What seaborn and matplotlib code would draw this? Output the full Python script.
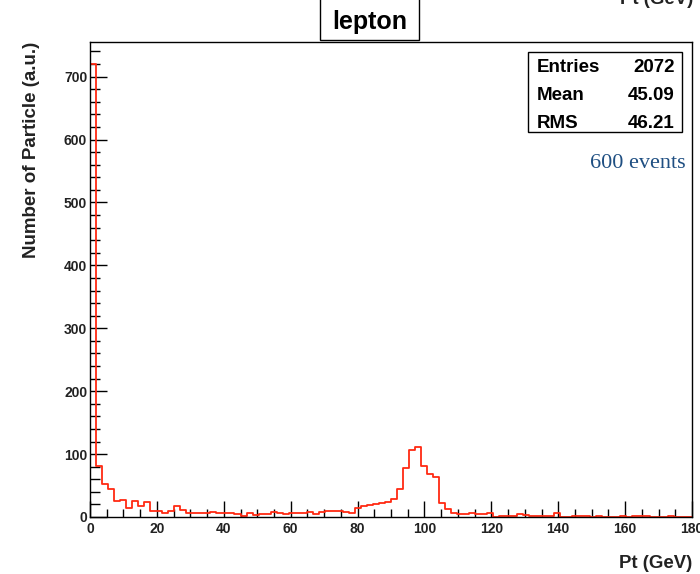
import numpy as np
import pandas as pd
import seaborn as sns
import matplotlib
matplotlib.use("Agg")
import matplotlib.pyplot as plt
from matplotlib.patches import Rectangle
from matplotlib.ticker import MultipleLocator

# Lepton transverse momentum spectrum, 100 bins between 0 and 180 GeV
pt_low, pt_high, n_bins = 0.0, 180.0, 100
counts = [720, 81, 53, 44, 26, 27, 15, 26, 18, 24,
          9, 10, 6, 9, 18, 11, 6, 6, 7, 7,
          8, 7, 7, 6, 5, 2, 6, 3, 5, 5,
          8, 6, 5, 7, 7, 7, 8, 5, 8, 10,
          10, 10, 8, 7, 15, 17, 19, 20, 22, 24,
          29, 45, 78, 107, 112, 81, 69, 63, 23, 13,
          6, 4, 4, 6, 5, 4, 6, 0, 2, 2,
          2, 5, 3, 2, 2, 2, 2, 6, 0, 0,
          1, 1, 1, 0, 1, 0, 0, 0, 1, 0,
          1, 1, 1, 0, 0, 0, 1, 0, 0, 0]

title = "lepton"
x_title = "Pt (GeV)"
y_title = "Number of Particle (a.u.)"
stat_names = ["Entries", "Mean", "RMS"]
stat_values = ["2072", "45.09", "46.21"]
note = "600 events"

width = (pt_high - pt_low) / n_bins
centers = pt_low + width * (np.arange(n_bins) + 0.5)
df = pd.DataFrame({"pt": centers, "n": counts})

sns.set_theme(style="white")
plt.rcParams["font.family"] = ["Liberation Sans", "DejaVu Sans"]

fig = plt.figure(figsize=(7.0, 5.74), dpi=100)
W, H = 700, 574
ax = fig.add_axes([90 / W, 1 - 517 / H, (692 - 90) / W, (517 - 42) / H])

sns.histplot(data=df, x="pt", weights="n", bins=n_bins, binrange=(pt_low, pt_high),
             element="step", fill=False, color="#ff2a12", linewidth=1.3, ax=ax)

ax.set_xlim(pt_low, pt_high)
ax.set_ylim(0, 755)
ax.xaxis.set_major_locator(MultipleLocator(20))
ax.xaxis.set_minor_locator(MultipleLocator(5))
ax.yaxis.set_major_locator(MultipleLocator(100))
ax.yaxis.set_minor_locator(MultipleLocator(20))
ax.tick_params(axis="x", which="major", direction="in", length=11.5, width=1.0,
               color="black", pad=3.5, labelsize=10, bottom=True, top=False)
ax.tick_params(axis="x", which="minor", direction="in", length=5.8, width=1.0,
               color="black", bottom=True, top=False)
ax.tick_params(axis="y", which="major", direction="in", length=12.5, width=1.0,
               color="black", pad=2, labelsize=10, left=True, right=False)
ax.tick_params(axis="y", which="minor", direction="in", length=7, width=1.0,
               color="black", left=True, right=False)
for lab in ax.get_xticklabels() + ax.get_yticklabels():
    lab.set_fontweight("bold")
    lab.set_color("#222222")
for sp in ax.spines.values():
    sp.set_color("black")
    sp.set_linewidth(1.0)
ax.grid(False)

ax.set_xlabel(x_title, loc="right", fontsize=13.4, fontweight="bold", color="#222222")
ax.xaxis.set_label_coords(1.0, -0.081)
ax.set_ylabel(y_title, loc="top", fontsize=13.5, fontweight="bold", color="#222222")
ax.yaxis.set_label_coords(-0.083, 1.0)

# title box, open at the top of the canvas
fig.patches.append(Rectangle((320 / W, 1 - 40 / H), 99 / W, 60 / H,
                             transform=fig.transFigure, facecolor="white",
                             edgecolor="black", linewidth=1.0))
fig.text(369.5 / W, 1 - 22 / H, title, ha="center", va="center",
         fontsize=18, fontweight="bold", color="black")

# axis title repeated at the upper edge
fig.text(693 / W, 1 - 4 / H, x_title, ha="right", va="baseline",
         fontsize=13.4, fontweight="bold", color="#222222")

# statistics box
fig.patches.append(Rectangle((528 / W, 1 - 132 / H), 154 / W, 80 / H,
                             transform=fig.transFigure, facecolor="white",
                             edgecolor="black", linewidth=1.0))
for i, (nm, val) in enumerate(zip(stat_names, stat_values)):
    yc = 1 - (68 + 27.5 * i) / H
    fig.text(537 / W, yc, nm, ha="left", va="center", fontsize=13.5,
             fontweight="bold", color="black")
    fig.text(675 / W, yc, val, ha="right", va="center", fontsize=13.5,
             fontweight="bold", color="black")

fig.text(686 / W, 1 - 163 / H, note, ha="right", va="center", fontsize=16,
         family=["Liberation Serif", "DejaVu Serif"], color="#1f4f82")

fig.savefig("out.png", dpi=100, facecolor="white")
